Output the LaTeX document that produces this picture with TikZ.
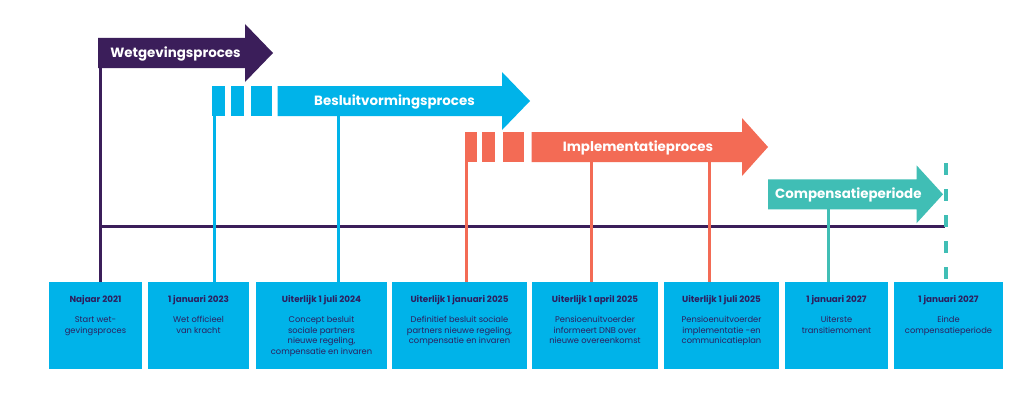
\documentclass[tikz,border=0pt]{standalone}
\usepackage{fontspec}
\setmainfont{Poppins}
\definecolor{purp}{HTML}{3B1E5A}
\definecolor{cyanc}{HTML}{00B3E9}
\definecolor{orng}{HTML}{F36B55}
\definecolor{teal2}{HTML}{40BEB5}
\definecolor{navy}{HTML}{2E1F5E}
\begin{document}
\begin{tikzpicture}[x=1pt,y=-1pt,
  infobox/.style={fill=cyanc, draw=none, minimum height=87pt, inner sep=0pt, outer sep=0pt},
  boxtext/.style={anchor=north, align=center, inner sep=0pt, text=navy, font=\fontsize{8.3}{10.5}\selectfont},
  boxtitle/.style={font=\fontsize{8.8}{10.5}\selectfont\bfseries},
  arrowlabel/.style={anchor=base, inner sep=0pt, text=white, font=\fontsize{13.4}{15}\selectfont\bfseries},
  tick/.style={line width=3pt},
]
\useasboundingbox[fill=white] (0,0) rectangle (1024,412);

% ---------- boxes ----------
\node[infobox, minimum width=93pt]  (b1) at (95.5,325.5) {};
\node[infobox, minimum width=101pt] (b2) at (198.5,325.5) {};
\node[infobox, minimum width=131pt] (b3) at (321.5,325.5) {};
\node[infobox, minimum width=135pt] (b4) at (459.5,325.5) {};
\node[infobox, minimum width=126pt] (b5) at (595,325.5) {};
\node[infobox, minimum width=115pt] (b6) at (721.5,325.5) {};
\node[infobox, minimum width=103pt] (b7) at (836.5,325.5) {};
\node[infobox, minimum width=109pt] (b8) at (948.5,325.5) {};

\newcommand{\bxt}[1]{{\fontsize{8.8}{10.5}\selectfont\bfseries #1}}
\node[boxtext] (t1) at ([yshift=-12.95pt]b1.north) {\strut\bxt{Najaar 2021}\\[9.5pt]Start wet-\\gevingsproces};
\node[boxtext] (t2) at ([yshift=-12.95pt]b2.north) {\strut\bxt{1 januari 2023}\\[9.5pt]Wet officieel\\van kracht};
\node[boxtext] (t3) at ([yshift=-12.95pt]b3.north) {\strut\bxt{Uiterlijk 1 juli 2024}\\[9.5pt]Concept besluit\\sociale partners\\nieuwe regeling,\\compensatie en invaren};
\node[boxtext] (t4) at ([yshift=-12.95pt]b4.north) {\strut\bxt{Uiterlijk 1 januari 2025}\\[9.5pt]Definitief besluit sociale\\partners nieuwe regeling,\\compensatie en invaren};
\node[boxtext] (t5) at ([yshift=-12.95pt]b5.north) {\strut\bxt{Uiterlijk 1 april 2025}\\[9.5pt]Pensioenuitvoerder\\informeert DNB over\\nieuwe overeenkomst};
\node[boxtext] (t6) at ([yshift=-12.95pt]b6.north) {\strut\bxt{Uiterlijk 1 juli 2025}\\[9.5pt]Pensioenuitvoerder\\implementatie -en\\communicatieplan};
\node[boxtext] (t7) at ([yshift=-12.95pt]b7.north) {\strut\bxt{1 januari 2027}\\[9.5pt]Uiterste\\transitiemoment};
\node[boxtext] (t8) at ([yshift=-12.95pt]b8.north) {\strut\bxt{1 januari 2027}\\[9.5pt]Einde\\compensatieperiode};

% ---------- timeline ----------
\coordinate (tlstart) at (100,226.5);
\coordinate (tlend) at (945,226.5);
\draw[purp, line width=3.5pt] (tlstart) -- (tlend);

% ---------- process arrows ----------
% Wetgevingsproces
\fill[purp] (98,38) -- (245,38) -- (245,24) -- (273,53) -- (245,82) -- (245,68) -- (98,68) -- cycle;
\node[arrowlabel] (l1) at (175.5,57.5) {Wetgevingsproces};
% Besluitvormingsproces
\fill[cyanc] (211.7,86) rectangle (225,116);
\fill[cyanc] (230.7,86) rectangle (244,116);
\fill[cyanc] (250.7,86) rectangle (271.7,116);
\fill[cyanc] (277.5,86) -- (502,86) -- (502,72) -- (530,101) -- (502,130) -- (502,116) -- (277.5,116) -- cycle;
\node[arrowlabel] (l2) at (394.5,105.5) {Besluitvormingsproces};
% Implementatieproces
\fill[orng] (465,132) rectangle (477.3,162);
\fill[orng] (482.3,132) rectangle (495,162);
\fill[orng] (502.7,132) rectangle (524,162);
\fill[orng] (531.7,132) -- (742,132) -- (742,118) -- (768,147) -- (742,176) -- (742,162) -- (531.7,162) -- cycle;
\node[arrowlabel] (l3) at (638,151.5) {Implementatieproces};
% Compensatieperiode
\fill[teal2] (768,179.3) -- (916.5,179.3) -- (916.5,165.3) -- (943,194.3) -- (916.5,223.3) -- (916.5,209.3) -- (768,209.3) -- cycle;
\node[arrowlabel] (l4) at (848.3,198.8) {Compensatieperiode};

% ---------- ticks ----------
\coordinate (p1) at (100,66);
\coordinate (p2) at (214,114);
\coordinate (p3) at (338.5,114);
\coordinate (p4) at (466.5,160);
\coordinate (p5) at (591,160);
\coordinate (p6) at (709,160);
\coordinate (p7) at (828.7,207);
\coordinate (p8) at (946,163);
\draw[tick, purp]  (p1) -- (p1 |- b1.north);
\draw[tick, cyanc] (p2) -- (p2 |- b2.north);
\draw[tick, cyanc] (p3) -- (p3 |- b3.north);
\draw[tick, orng]  (p4) -- (p4 |- b4.north);
\draw[tick, orng]  (p5) -- (p5 |- b5.north);
\draw[tick, orng]  (p6) -- (p6 |- b6.north);
\draw[tick, teal2] (p7) -- (p7 |- b7.north);
\draw[teal2, line width=4pt, dash pattern=on 12pt off 14pt] (p8) -- (p8 |- b8.north);
\end{tikzpicture}
\end{document}
